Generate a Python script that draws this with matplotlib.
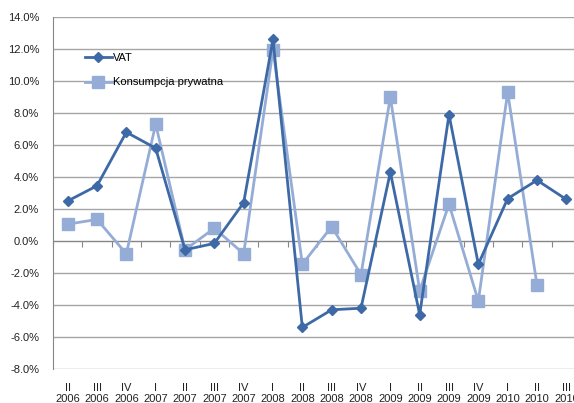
import numpy as np
import matplotlib.pyplot as plt
from matplotlib.ticker import FuncFormatter, MultipleLocator
import matplotlib.transforms as mtransforms

plt.rcParams['font.family'] = ['Liberation Sans', 'DejaVu Sans']

quarters = ['II', 'III', 'IV', 'I', 'II', 'III', 'IV', 'I', 'II', 'III', 'IV',
            'I', 'II', 'III', 'IV', 'I', 'II', 'III']
years = ['2006', '2006', '2006', '2007', '2007', '2007', '2007', '2008', '2008',
         '2008', '2008', '2009', '2009', '2009', '2009', '2010', '2010', '2010']

# quarterly growth, in percent
vat = [2.5, 3.45, 6.8, 5.8, -0.55, -0.15, 2.4, 12.6, -5.4, -4.3, -4.2,
       4.3, -4.6, 7.9, -1.45, 2.65, 3.8, 2.6]
konsumpcja = [1.05, 1.35, -0.8, 7.3, -0.55, 0.8, -0.8, 11.95, -1.45, 0.9,
              -2.1, 9.0, -3.1, 2.3, -3.75, 9.3, -2.75, np.nan]

x = np.arange(len(quarters))

fig = plt.figure(figsize=(5.74, 4.03), dpi=100)
ax = fig.add_axes([53 / 574, 34 / 403, 528 / 574, 352 / 403])

ax.plot(x, vat, color='#3D6AA6', lw=2.0, marker='D', ms=5.5, label='VAT', zorder=4)
ax.plot(x, konsumpcja, color='#95ADD6', lw=2.0, marker='s', ms=8,
        label='Konsumpcja prywatna', zorder=3)

ax.set_xlim(-0.5, len(quarters) - 0.5)
ax.set_ylim(-8, 14)
ax.yaxis.set_major_locator(MultipleLocator(2))
ax.yaxis.set_major_formatter(FuncFormatter(lambda v, p: f'{v:.1f}%'))
ax.grid(axis='y', color='#A6A6A6', lw=1.0, zorder=0)
ax.set_axisbelow(True)

for s in ['top', 'right']:
    ax.spines[s].set_visible(False)
ax.spines['left'].set_color('#868686')
ax.spines['bottom'].set_position(('data', 0))
ax.spines['bottom'].set_color('#868686')

ax.tick_params(axis='y', length=0, pad=10, labelsize=8, labelcolor='#222222')
ax.set_xticks(np.arange(len(quarters) + 1) - 0.5)
ax.set_xticklabels([])
ax.tick_params(axis='x', direction='out', length=4, color='#868686')

# category labels below the plot area
trans = mtransforms.blended_transform_factory(ax.transData, ax.transAxes)
for i, (q, yr) in enumerate(zip(quarters, years)):
    ax.text(i, -0.04, q + '\n' + yr, transform=trans, ha='center', va='top',
            fontsize=8, color='#222222', linespacing=1.12)

ax.legend(loc='upper left', bbox_to_anchor=(85 / 574, 1 - 53 / 403),
          bbox_transform=fig.transFigure, frameon=False, fontsize=8,
          handlelength=2.4, handletextpad=0.15, labelspacing=1.3,
          borderpad=0, borderaxespad=0)

fig.savefig('out.png', dpi=100)
